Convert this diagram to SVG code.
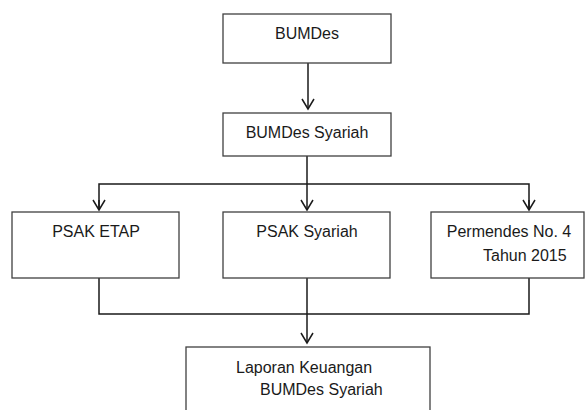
<svg xmlns="http://www.w3.org/2000/svg" width="585" height="410" viewBox="0 0 585 410">
<style>
.box{fill:#fff;stroke:#404040;stroke-width:1.3}
.ln{fill:none;stroke:#1a1a1a;stroke-width:1.5}
text{font-family:"Liberation Sans",Arial,sans-serif;font-size:16px;fill:#1a1a1a}
</style>
<defs>
<marker id="ah" markerWidth="16" markerHeight="16" refX="8" refY="12" orient="auto" markerUnits="userSpaceOnUse" viewBox="0 0 16 16">
<polyline points="2,2 8,12 14,2" fill="none" stroke="#1a1a1a" stroke-width="1.5" transform="rotate(-90 8 8) translate(0,0)"/>
</marker>
<marker id="v" markerWidth="16" markerHeight="14" refX="8" refY="12" orient="0" markerUnits="userSpaceOnUse" viewBox="0 0 16 14">
<polyline points="2,2 8,12 14,2" fill="none" stroke="#1a1a1a" stroke-width="1.5"/>
</marker>
</defs>
<g id="connectors">
<line class="ln" x1="308" y1="63" x2="308" y2="109" marker-end="url(#v)"/>
<line class="ln" x1="307" y1="156" x2="307" y2="210" marker-end="url(#v)"/>
<polyline class="ln" points="99,210 99,184 529,184 529,210"/>
<line class="ln" x1="99" y1="200" x2="99" y2="210" marker-end="url(#v)"/>
<line class="ln" x1="529" y1="200" x2="529" y2="210" marker-end="url(#v)"/>
<polyline class="ln" points="99,278 99,314 529,314 529,278"/>
<line class="ln" x1="307" y1="278" x2="307" y2="343" marker-end="url(#v)"/>
</g>
<g id="bumdes"><rect class="box" x="223" y="14" width="168" height="49"/><text x="307" y="39" text-anchor="middle">BUMDes</text></g>
<g id="bumdes-syariah"><rect class="box" x="223" y="113" width="168" height="43"/><text x="307" y="138" text-anchor="middle">BUMDes Syariah</text></g>
<g id="psak-etap"><rect class="box" x="12" y="212" width="167" height="66"/><text x="96" y="237" text-anchor="middle">PSAK ETAP</text></g>
<g id="psak-syariah"><rect class="box" x="223" y="212" width="167" height="66"/><text x="307" y="237" text-anchor="middle">PSAK Syariah</text></g>
<g id="permendes"><rect class="box" x="431" y="212" width="153" height="66"/><text x="509" y="237" text-anchor="middle">Permendes No. 4</text><text x="483" y="261">Tahun 2015</text></g>
<g id="laporan"><rect class="box" x="186" y="347" width="244" height="70"/><text x="236" y="373">Laporan Keuangan</text><text x="260" y="395">BUMDes Syariah</text></g>
</svg>
